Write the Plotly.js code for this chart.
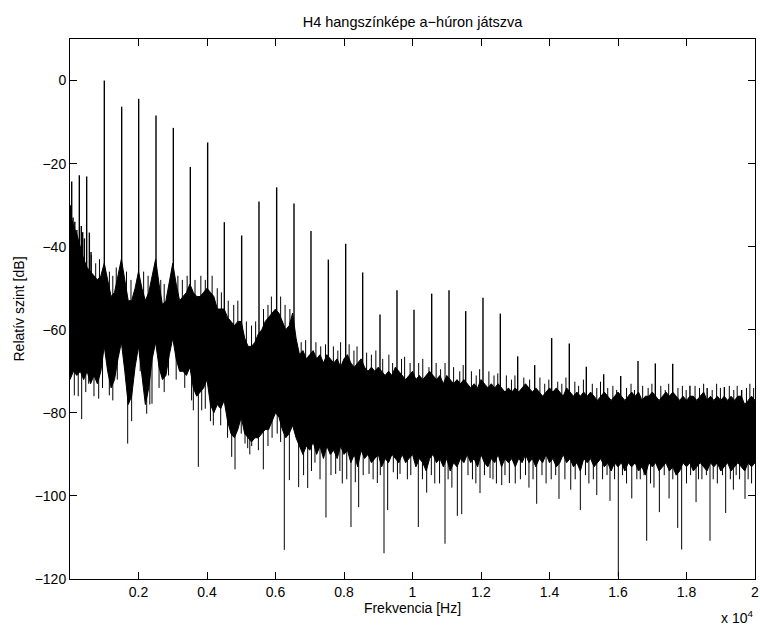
<!DOCTYPE html>
<html>
<head>
<meta charset="utf-8">
<script src="https://cdn.plot.ly/plotly-3.0.1.min.js"></script>
<style>html,body{margin:0;padding:0;background:#fff;}#chart{width:760px;height:627px;}</style>
</head>
<body>
<div id="chart"></div>
<script>
// Frequency grid of the dense noise band (Hz)
const bandFreq = [
0,100,200,300,400,500,600,700,800,900,
1000,1100,1200,1300,1400,1500,1600,1700,1800,1900,
2000,2100,2200,2300,2400,2500,2600,2700,2800,2900,
3000,3100,3200,3300,3400,3500,3600,3700,3800,3900,
4000,4100,4200,4300,4400,4500,4600,4700,4800,4900,
5000,5100,5200,5300,5400,5500,5600,5700,5800,5900,
6000,6100,6200,6300,6400,6500,6600,6700,6800,6900,
7000,7100,7200,7300,7400,7500,7600,7700,7800,7900,
8000,8100,8200,8300,8400,8500,8600,8700,8800,8900,
9000,9100,9200,9300,9400,9500,9600,9700,9800,9900,
10000,10100,10200,10300,10400,10500,10600,10700,10800,10900,
11000,11100,11200,11300,11400,11500,11600,11700,11800,11900,
12000,12100,12200,12300,12400,12500,12600,12700,12800,12900,
13000,13100,13200,13300,13400,13500,13600,13700,13800,13900,
14000,14100,14200,14300,14400,14500,14600,14700,14800,14900,
15000,15100,15200,15300,15400,15500,15600,15700,15800,15900,
16000,16100,16200,16300,16400,16500,16600,16700,16800,16900,
17000,17100,17200,17300,17400,17500,17600,17700,17800,17900,
18000,18100,18200,18300,18400,18500,18600,18700,18800,18900,
19000,19100,19200,19300,19400,19500,19600,19700,19800,19900,
20000];

// Upper edge of the noise band (dB)
const bandTop = [
-32,-35,-37,-40,-43,-45,-46,-47,-48,-47,
-44,-48,-52,-51,-47,-43,-48,-53,-53,-50,
-46,-50,-53,-51,-47,-43,-49,-54,-53,-48,
-44,-49,-53,-52,-51,-49,-51,-52,-52,-51,
-50,-51,-52,-55,-55,-55,-57,-58,-59,-58,
-58,-62,-64,-64,-63,-61,-60,-58,-57,-56,
-55,-56,-58,-60,-59,-56,-62,-66,-65,-67,
-66,-65,-67,-66,-68,-66,-67,-68,-67,-69,
-67,-66,-68,-69,-68,-67,-69,-70,-69,-70,
-69,-70,-71,-70,-71,-69,-70,-71,-72,-71,
-70,-72,-71,-72,-71,-70,-71,-72,-71,-73,
-71,-72,-73,-72,-73,-72,-73,-74,-73,-74,
-72,-73,-74,-73,-74,-73,-74,-75,-74,-75,
-74,-75,-74,-73,-74,-75,-74,-75,-76,-75,
-74,-75,-74,-75,-76,-74,-75,-76,-75,-76,
-75,-76,-75,-76,-77,-76,-75,-76,-77,-76,
-75,-76,-77,-76,-75,-76,-75,-77,-76,-76,
-75,-76,-77,-76,-75,-76,-75,-76,-77,-76,
-77,-76,-76,-77,-76,-75,-77,-76,-77,-76,
-77,-76,-77,-76,-77,-76,-76,-78,-77,-76,
-77];

// Lower edge of the noise band (dB)
const bandBottom = [
-72,-70,-71,-70,-72,-70,-73,-71,-73,-70,
-64,-70,-74,-72,-67,-63,-70,-78,-76,-69,
-64,-71,-78,-74,-67,-63,-69,-72,-71,-66,
-62,-67,-70,-70,-71,-69,-74,-76,-75,-74,
-72,-78,-80,-78,-79,-77,-82,-85,-86,-84,
-81,-85,-86,-87,-86,-86,-85,-84,-84,-82,
-80,-81,-84,-86,-85,-83,-86,-88,-90,-88,
-89,-87,-90,-88,-91,-88,-90,-89,-91,-88,
-90,-89,-92,-90,-93,-89,-91,-90,-92,-91,
-90,-93,-91,-92,-90,-91,-92,-90,-92,-91,
-90,-93,-91,-92,-94,-91,-90,-92,-91,-93,
-91,-94,-92,-93,-91,-92,-90,-92,-91,-93,
-90,-92,-93,-91,-92,-90,-93,-91,-92,-91,
-93,-91,-92,-90,-92,-91,-93,-91,-92,-90,
-92,-91,-93,-92,-90,-92,-91,-93,-92,-94,
-91,-92,-91,-93,-92,-91,-93,-92,-94,-92,
-93,-92,-94,-92,-93,-92,-94,-93,-95,-92,
-93,-92,-94,-93,-92,-94,-93,-95,-94,-92,
-93,-92,-94,-93,-92,-93,-94,-92,-93,-92,
-94,-93,-92,-94,-93,-92,-93,-94,-92,-93,
-92];

// Harmonic peaks and large upward spikes (Hz, dB)
const peakFreq = [20,50,90,140,200,272,330,370,420,487,565,614,
  1002,1509,2005,2511,3017,3513,4019,4506,5012,5518,6034,6540,
  7036,7543,8049,8545,9051,9547,10044,10560,11066,11553,12058,12564,
  13071,13567,14063,14578,15075,15582,16079,16584,17090,17597,18100,18603,19105,19610];
const peakDb = [-30,-24.3,-33,-34,-36,-22.8,-35,-36.5,-38,-23.1,-36.6,-41.3,
  0,-6.3,-4.4,-8.4,-11.4,-20.8,-14.9,-34.1,-37.3,-29.1,-25.7,-29.6,
  -36.2,-43.1,-39.3,-46.2,-56.3,-50.5,-55.2,-51.3,-50.5,-55.5,-52.3,-56.1,
  -66.4,-68.5,-62.0,-63.3,-68.9,-70.7,-71.1,-67.5,-68.1,-68.2,-73.5,-74,-73.8,-74.5];

// Large downward spikes (Hz, dB)
const dipFreq = [126,341,545,838,1148,1684,2239,2394,2877,3601,3747,3845,4185,4721,4818,
  5110,5188,5305,5645,5900,6257,6405,6676,6940,7152,7300,7474,7757,7950,8204,8330,8428,8731,
  8973,9168,9275,9440,9636,9850,10170,10414,10650,10949,11150,11309,11437,11750,11971,12264,
  12450,12605,12828,13150,13400,13626,13900,14277,14450,14620,14900,15150,15380,15550,15766,
  16009,16250,16402,16650,16838,17050,17208,17491,17743,17859,18000,18279,18450,18686,18900,
  19144,19369,19550,19708,19900];
const dipDb = [-75.8,-81.5,-73,-76.6,-75.8,-87.4,-80.2,-77.8,-71,-79.4,-93,-79.4,-83,-90.6,-93.6,
  -87.4,-88.5,-88,-93.6,-86,-113,-96.2,-97.9,-98.1,-92,-96,-105.2,-94.7,-97,-107.5,-96.7,-102.7,-94.7,
  -96.9,-113.8,-103.4,-94.3,-94.7,-96,-107.5,-99.2,-97,-111.5,-98,-104.8,-104.4,-96,-99.3,-95.7,
  -97,-97.4,-96.9,-96,-98,-101.9,-97,-100.7,-96,-98.5,-103.4,-97,-99.8,-96,-101.2,
  -119.5,-97,-100.6,-96,-110.8,-98,-103.9,-100.6,-107.7,-112.9,-97,-101.5,-96,-110.8,-97,
  -104.1,-98.5,-96,-100.7,-97];

// Small noise spikes on the upper edge of the band (Hz, dB)
const fringeUpFreq = [620,750,860,1150,1250,1350,1650,1780,2150,2280,2650,2750,3150,3280,3420,
  3650,3820,3950,4150,4300,4420,4620,4780,4900,5150,5300,5420,5650,5780,5880,6150,6280,6420,
  6750,6880,7180,7320,7460,7690,7820,7900,8150,8290,8380,8660,8800,8930,9130,9310,9420,9680,
  9770,9930,10180,10300,10480,10690,10820,10950,11200,11380,11480,11720,11860,11960,12230,12380,
  12490,12740,12890,12990,13250,13420,13720,13860,13980,14240,14360,14480,14740,14850,14990,
  15250,15380,15490,15700,15850,15960,16250,16380,16480,16720,16880,16990,17250,17380,17480,
  17750,17880,17990,18250,18380,18500,18750,18880,18990,19250,19380,19480,19750,19850,19960];
const fringeUpDb = [-42,-44,-43,-46,-47,-45,-46,-48,-46,-47,-48,-49,-47,-48,-47,
  -48,-47,-48,-47,-50,-51,-53,-54,-53,-58,-59,-58,-55,-54,-52,-52,-54,-55,
  -63,-62.5,-63,-64,-63.5,-64,-65,-63,-63.5,-65,-64,-65.5,-66,-65,-67,-66,-68,-67,
  -66.5,-68,-68,-67,-69,-68,-69.5,-68,-69,-70,-68.5,-70,-71,-69.5,-70,-71,
  -70.5,-71,-72,-71,-71.5,-72,-71.5,-73,-72,-72.5,-73,-71.5,-72.5,-73.5,-72,
  -73,-74,-72.5,-74,-73.5,-74.5,-74,-73,-74.5,-73.5,-74,-73,-73.5,-74.5,-73,
  -74,-73.5,-74.5,-73.5,-74,-73,-74.5,-73,-74,-73.5,-74.5,-73.5,-74,-73,-74];

// Small noise spikes on the lower edge of the band (Hz, dB)
const fringeDownFreq = [240,460,700,950,1250,1380,1800,2050,2330,2600,2750,3100,3350,3550,3950,
  4100,4400,4600,5000,5250,5500,5780,6050,6150,
  6820,7050,7620,7880,8080,8560,8850,9060,9560,9950,10290,10550,10790,11040,11620,11850,12100,
  12350,12700,13000,13300,13520,13780,14050,14180,14750,15050,15280,15680,15900,16130,16550,
  16760,16950,17350,17600,18120,18350,18580,18780,19050,19280,19450,19800];
const fringeDownDb = [-76,-75,-76,-74,-77,-72,-82,-70,-78,-74,-75,-72,-74,-77,-79,
  -82,-83,-86,-85,-90,-89,-88,-85,-87,
  -95,-94,-95,-94,-96,-95,-96,-95,-96,-95,-96,-95,-97,-96,-95,-97,-95,
  -96,-95,-97,-95,-96,-95,-96,-95,-96,-95,-96,-95,-96,-95,-96,
  -95,-97,-95,-96,-95,-96,-95,-96,-95,-96,-95,-96];

const xTickVals = [2000,4000,6000,8000,10000,12000,14000,16000,18000,20000];
const xTickText = ['0.2','0.4','0.6','0.8','1','1.2','1.4','1.6','1.8','2'];
const yTickVals = [-120,-100,-80,-60,-40,-20,0];

// each spike is drawn from the middle of the band at the nearest grid frequency to its tip
function bandMid(f){
  let best = 0;
  for (let i = 1; i < bandFreq.length; i++) {
    if (Math.abs(bandFreq[i]-f) < Math.abs(bandFreq[best]-f)) best = i;
  }
  return (bandTop[best] + bandBottom[best]) / 2;
}
function spikes(fs, ds){
  const x = [], y = [];
  for (let i = 0; i < fs.length; i++) {
    x.push(fs[i], fs[i], null);
    y.push(bandMid(fs[i]), ds[i], null);
  }
  return {x: x, y: y};
}
const sPeak = spikes(peakFreq, peakDb);
const sDip = spikes(dipFreq, dipDb);
const sFU = spikes(fringeUpFreq, fringeUpDb);
const sFD = spikes(fringeDownFreq, fringeDownDb);

const traces = [
  {x: bandFreq, y: bandBottom, mode: 'lines', line: {color: 'black', width: 1}, hoverinfo: 'skip'},
  {x: bandFreq, y: bandTop, mode: 'lines', fill: 'tonexty', fillcolor: 'black', line: {color: 'black', width: 1}, hoverinfo: 'skip'},
  {x: sFU.x, y: sFU.y, mode: 'lines', line: {color: 'black', width: 1}, hoverinfo: 'skip'},
  {x: sFD.x, y: sFD.y, mode: 'lines', line: {color: 'black', width: 1}, hoverinfo: 'skip'},
  {x: sDip.x, y: sDip.y, mode: 'lines', line: {color: 'black', width: 1}, hoverinfo: 'skip'},
  {x: sPeak.x, y: sPeak.y, mode: 'lines', line: {color: 'black', width: 1.4}, hoverinfo: 'skip'}
];

const axisCommon = {
  showline: true, linecolor: 'black', linewidth: 1, mirror: 'ticks',
  ticks: 'inside', ticklen: 7, tickcolor: 'black', tickwidth: 1,
  showgrid: false, zeroline: false, automargin: false,
  tickfont: {family: 'Liberation Sans, Arial, sans-serif', size: 14, color: 'black'}
};

const layout = {
  width: 760, height: 627,
  margin: {l: 70, r: 5, t: 39, b: 48},
  paper_bgcolor: 'white', plot_bgcolor: 'white',
  showlegend: false,
  font: {family: 'Liberation Sans, Arial, sans-serif', size: 14, color: 'black'},
  title: {text: 'H4 hangszínképe a−húron játszva', font: {size: 14.5, color: 'black'},
          x: 0.5, xref: 'paper', xanchor: 'center', y: 1 - 22/627, yref: 'container', yanchor: 'middle'},
  xaxis: Object.assign({}, axisCommon, {
    range: [0, 20000], tickmode: 'array', tickvals: xTickVals, ticktext: xTickText,
    title: {text: 'Frekvencia [Hz]', font: {size: 14}, standoff: 4}
  }),
  yaxis: Object.assign({}, axisCommon, {
    range: [-120, 10], tickmode: 'array', tickvals: yTickVals,
    title: {text: 'Relatív szint [dB]', font: {size: 14}, standoff: 6}
  }),
  annotations: [{
    text: 'x 10<sup>4</sup>', xref: 'paper', yref: 'paper', x: 1, y: -(617-579)/540,
    xanchor: 'right', yanchor: 'middle', showarrow: false,
    font: {family: 'Liberation Sans, Arial, sans-serif', size: 14, color: 'black'}
  }]
};

Plotly.newPlot('chart', traces, layout, {displayModeBar: false, staticPlot: true});
</script>
</body>
</html>
